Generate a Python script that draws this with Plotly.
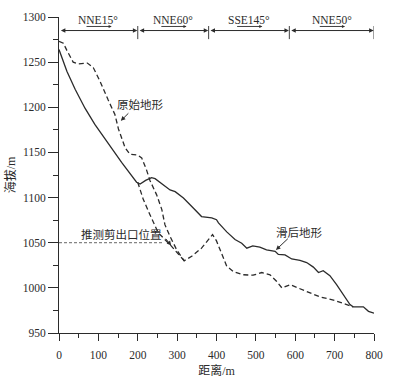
import plotly.graph_objects as go

# ---- data ----
post_x = [0, 7, 20, 41, 66, 91, 125, 159, 197, 206, 220, 235, 244, 265, 282, 295, 316, 341, 362,
          388, 400, 405, 426, 447, 464, 477, 492, 510, 527, 549, 557, 574, 591, 612, 629, 646,
          659, 671, 688, 705, 722, 739, 747, 773, 786, 800]
post_y = [1264, 1256, 1240, 1220, 1199, 1181, 1160, 1139, 1117, 1115, 1119, 1122, 1121, 1114,
          1108.5, 1106.5, 1099.5, 1088.5, 1079, 1077.5, 1075.5, 1072, 1062, 1053.5, 1049.5, 1044,
          1046.5, 1045, 1042, 1040.5, 1037, 1036.5, 1032, 1030.5, 1028, 1023, 1017, 1019, 1013.5,
          1003.5, 992.5, 981.5, 979, 979, 974, 972]

orig_x = [0, 11, 20, 36, 49, 62, 72, 87, 104, 125, 142, 151, 168, 180, 200, 210, 222, 231, 248,
          261, 269, 282, 299, 318, 337, 362, 379, 390, 400, 413, 426, 443, 468, 493, 515, 536,
          553, 566, 587, 612, 637, 663, 697, 731, 747]
orig_y = [1273, 1271, 1263, 1250, 1248, 1249, 1249, 1244, 1229, 1208, 1192, 1176, 1155, 1148,
          1147, 1144, 1131, 1119, 1103, 1087, 1070, 1057, 1042, 1030, 1035, 1044, 1053, 1059, 1052,
          1037, 1024, 1018, 1014.5, 1014, 1017, 1014.5, 1007, 1000, 1003.5, 999, 995, 990, 986.5,
          981.5, 979]

slip_x = [200, 214, 231, 252, 286, 307, 318]
slip_y = [1117, 1098, 1081, 1061, 1046, 1035, 1030]

outlet_x = [0, 265]
outlet_y = [1050, 1050]

seg_bounds = [0, 200, 380, 585, 800]
seg_labels = ["NNE15°", "NNE60°", "SSE145°", "NNE50°"]

x_ticks = [0, 100, 200, 300, 400, 500, 600, 700, 800]
y_ticks = [950, 1000, 1050, 1100, 1150, 1200, 1250, 1300]

LAT = "Liberation Serif, Noto Sans CJK SC"
CJK = "Noto Sans CJK SC, Liberation Serif"
INK = "#2b2b2b"

fig = go.Figure()
fig.add_trace(go.Scatter(x=orig_x, y=orig_y, mode="lines",
                         line=dict(color=INK, width=1.3, dash="5px,3px"), hoverinfo="skip"))
fig.add_trace(go.Scatter(x=slip_x, y=slip_y, mode="lines",
                         line=dict(color=INK, width=1.3, dash="5px,3px"), hoverinfo="skip"))
fig.add_trace(go.Scatter(x=post_x, y=post_y, mode="lines",
                         line=dict(color=INK, width=1.3), hoverinfo="skip"))
fig.add_trace(go.Scatter(x=outlet_x, y=outlet_y, mode="lines",
                         line=dict(color="#555", width=0.9, dash="3px,2px"), hoverinfo="skip"))

# segment separators
sep_x, sep_y = [], []
for b in seg_bounds[1:]:
    sep_x += [b, b, None]
    sep_y += [1275.5, 1290, None]
fig.add_trace(go.Scatter(x=sep_x, y=sep_y, mode="lines", line=dict(color=INK, width=0.9),
                         hoverinfo="skip"))

ann = []
for i, lab in enumerate(seg_labels):
    a, b = seg_bounds[i], seg_bounds[i + 1]
    c = (a + b) / 2
    ann.append(dict(x=b - 1, y=1285, ax=a + 1, ay=1285, xref="x", yref="y", axref="x", ayref="y",
                    text="", showarrow=True, arrowhead=2, arrowside="end+start", arrowsize=0.9,
                    arrowwidth=1, arrowcolor=INK, standoff=0, startstandoff=0))
    ann.append(dict(x=c, y=1296.5, xref="x", yref="y", text=lab, showarrow=False,
                    font=dict(family=LAT, size=11.5, color=INK)))
    ann.append(dict(x=c + 34, y=1289.5, ax=c - 34, ay=1289.5, xref="x", yref="y", axref="x",
                    ayref="y", text="", showarrow=True, arrowhead=2, arrowsize=0.7,
                    arrowwidth=0.9, arrowcolor=INK, standoff=0))

# labels with arrows
ann.append(dict(x=208, y=1204, xref="x", yref="y", text="原始地形", showarrow=False,
                font=dict(family=CJK, size=11.5, color=INK)))
ann.append(dict(x=157, y=1185, ax=180, ay=1195, xref="x", yref="y", axref="x", ayref="y",
                text="", showarrow=True, arrowhead=2, arrowsize=0.9, arrowwidth=1,
                arrowcolor=INK, standoff=0))
ann.append(dict(x=612, y=1062, xref="x", yref="y", text="滑后地形", showarrow=False,
                font=dict(family=CJK, size=11.5, color=INK)))
ann.append(dict(x=551, y=1042, ax=585, ay=1056, xref="x", yref="y", axref="x", ayref="y",
                text="", showarrow=True, arrowhead=2, arrowsize=0.9, arrowwidth=1,
                arrowcolor=INK, standoff=0))
ann.append(dict(x=159, y=1060, xref="x", yref="y", text="推测剪出口位置", showarrow=False,
                font=dict(family=CJK, size=11.5, color=INK)))
ann.append(dict(x=285, y=1047, ax=268, ay=1056, xref="x", yref="y", axref="x", ayref="y",
                text="", showarrow=True, arrowhead=2, arrowsize=0.9, arrowwidth=1,
                arrowcolor=INK, standoff=0))

fig.update_layout(
    width=402, height=379,
    margin=dict(l=59, r=28, t=17, b=46, autoexpand=False),
    paper_bgcolor="white", plot_bgcolor="white",
    showlegend=False,
    annotations=ann,
    font=dict(family=LAT, size=11, color=INK),
)
fig.update_xaxes(range=[0, 800], tickvals=x_ticks, showgrid=False, zeroline=False, automargin=False,
                 showline=True, linecolor=INK, linewidth=1, ticks="outside", ticklen=7,
                 tickwidth=1, tickcolor=INK, ticklabelstandoff=4,
                 minor=dict(dtick=50, tick0=0, ticks="outside", ticklen=3.5, tickcolor=INK, showgrid=False),
                 tickfont=dict(family=LAT, size=11.5, color=INK),
                 title=dict(text="距离/m", font=dict(family=LAT, size=12, color=INK), standoff=6))
fig.update_yaxes(range=[950, 1300], tickvals=y_ticks, showgrid=False, zeroline=False, automargin=False,
                 showline=True, linecolor=INK, linewidth=1, ticks="outside", ticklen=10,
                 tickwidth=1, tickcolor=INK,
                 minor=dict(dtick=25, tick0=950, ticks="outside", ticklen=5, tickcolor=INK, showgrid=False),
                 tickfont=dict(family=LAT, size=11.5, color=INK),
                 title=dict(text="海拔/m", font=dict(family=LAT, size=12, color=INK), standoff=4))

fig.write_html("out.html", config={"displayModeBar": False, "staticPlot": True},
               post_script="document.body.style.margin='0';document.body.style.overflow='hidden';")
